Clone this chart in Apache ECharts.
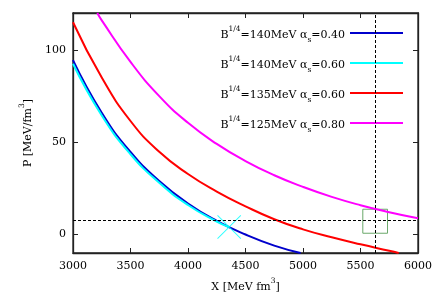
<!DOCTYPE html>
<html>
<head>
<meta charset="utf-8">
<script src="https://cdn.jsdelivr.net/npm/echarts@6/dist/echarts.min.js"></script>
<style>html,body{margin:0;padding:0;background:#fff;}#c{width:436px;height:304px;}</style>
</head>
<body>
<div id="c"></div>
<script>
// Data: [X (MeV fm^3), P (MeV/fm^3)]
var blueData = [[3000,94.5],[3250,66],[3500,44.7],[3750,29],[4000,16.8],[4250,7.4],[4500,0],[4750,-6],[4979,-10]];
var cyanData = [[3000,92.5],[3250,64.5],[3500,43.5],[3750,28],[4000,16],[4250,7],[4355,4.1]];
var redData = [[3000,115],[3250,85],[3500,61.5],[3750,44.8],[4000,32.8],[4250,23.3],[4500,15.3],[4750,8.3],[5000,2.8],[5250,-1.5],[5500,-5.3],[5750,-8.8],[5832,-10]];
var magentaData = [[3211,120],[3250,116],[3500,93.5],[3750,75],[4000,60.5],[4250,49.1],[4500,39.8],[4750,32.1],[5000,25.8],[5250,20.4],[5500,15.9],[5750,12.1],[6000,8.8]];
var crossPoint = [[4358,4.1]];
var refX = 5630;
var refP = 7.5;
var boxCorners = [[5520,0.7],[5735,13.7]];
var seriesNames = ['140MeV α|0.40','140MeV α|0.60','135MeV α|0.60','125MeV α|0.80'];
var yTicks = [0,50,100];

var FONT = 'DejaVu Serif';
var rich = {
  n: {fontFamily: FONT, fontSize: 11, color: '#000', lineHeight: 16, verticalAlign: 'bottom'},
  sup: {fontFamily: FONT, fontSize: 7.5, color: '#000', lineHeight: 16, verticalAlign: 'top'},
  sub: {fontFamily: FONT, fontSize: 7.5, color: '#000', lineHeight: 12, verticalAlign: 'bottom', padding: [0,0,-3,0]}
};
function legendLabel(name) {
  var p = name.split('|');
  var a = p[0].split(' α');
  return '{n|B}{sup|1/4}{n|=' + a[0] + ' α}{sub|s}{n|=' + p[1] + '}';
}
var colors = ['#0000cc', '#00ffff', '#ff0000', '#ff00ff'];
var datas = [blueData, cyanData, redData, magentaData];

var series = datas.map(function (d, i) {
  return {
    name: seriesNames[i], type: 'line', data: d, smooth: 0.5,
    symbol: 'none', showSymbol: false, clip: true,
    lineStyle: {color: colors[i], width: 2}, itemStyle: {color: colors[i]},
    z: 3, silent: true
  };
});
series.push({
  type: 'scatter', data: crossPoint,
  symbol: 'path://M0,0.7L0.7,0L12,11.3L23.3,0L24,0.7L12.7,12L24,23.3L23.3,24L12,12.7L0.7,24L0,23.3L11.3,12Z',
  symbolSize: 24, itemStyle: {color: '#00ffff'}, z: 4, silent: true
});
series.push({
  type: 'line', data: [], silent: true, xAxisIndex: 1, yAxisIndex: 1,
  markLine: {
    silent: true, symbol: ['none','none'], label: {show: false},
    lineStyle: {color: '#000', type: [3,2], width: 1},
    data: [{xAxis: refX}, {yAxis: refP}]
  },
  markArea: {
    silent: true, label: {show: false},
    itemStyle: {color: 'rgba(0,0,0,0)', borderColor: '#6aa86a', borderWidth: 1},
    data: [[{xAxis: boxCorners[0][0], yAxis: boxCorners[0][1]}, {xAxis: boxCorners[1][0], yAxis: boxCorners[1][1]}]]
  }
});

function axisLine() { return {show: true, onZero: false, lineStyle: {color: '#222', width: 1.3}}; }
function tick(extra) {
  var t = {show: true, inside: true, length: 5, lineStyle: {color: '#222', width: 1}};
  if (extra) { t.customValues = extra; }
  return t;
}
var option = {
  animation: false,
  backgroundColor: '#fff',
  grid: {left: 73, right: 18, top: 13, bottom: 51, outerBoundsMode: 'none', containLabel: false,
         show: true, borderColor: '#222', borderWidth: 1.3},
  legend: {
    data: seriesNames, right: 33, top: 25, orient: 'vertical', align: 'right',
    icon: 'rect', itemWidth: 53, itemHeight: 2, itemGap: 11, padding: 0,
    formatter: legendLabel,
    textStyle: {rich: rich, fontFamily: FONT, fontSize: 11}
  },
  xAxis: [{
    type: 'value', min: 3000, max: 6000, interval: 500, position: 'bottom',
    axisLine: axisLine(), axisTick: tick(), splitLine: {show: false},
    axisLabel: {fontFamily: FONT, fontSize: 11, color: '#000', margin: 8, formatter: function (v) { return String(v); }},
    name: '{n|X [MeV fm}{sup|3}{n|]}', nameLocation: 'middle', nameGap: 24,
    nameTextStyle: {rich: rich}
  }, {
    type: 'value', min: 3000, max: 6000, interval: 500, position: 'top',
    axisLine: axisLine(), axisTick: tick(), axisLabel: {show: false}, splitLine: {show: false}
  }],
  yAxis: [{
    type: 'value', min: -10, max: 120, position: 'left',
    axisLine: axisLine(), axisTick: tick(yTicks), splitLine: {show: false},
    axisLabel: {customValues: yTicks, fontFamily: FONT, fontSize: 11, color: '#000', margin: 7},
    name: '{n|P [MeV/fm}{sup|3}{n|]}', nameLocation: 'middle', nameGap: 31, nameRotate: 90,
    nameTextStyle: {rich: rich}
  }, {
    type: 'value', min: -10, max: 120, position: 'right',
    axisLine: axisLine(), axisTick: tick(yTicks), axisLabel: {show: false}, splitLine: {show: false}
  }],
  series: series
};
var chart = echarts.init(document.getElementById('c'), null, {renderer: 'canvas'});
chart.setOption(option);
</script>
</body>
</html>
